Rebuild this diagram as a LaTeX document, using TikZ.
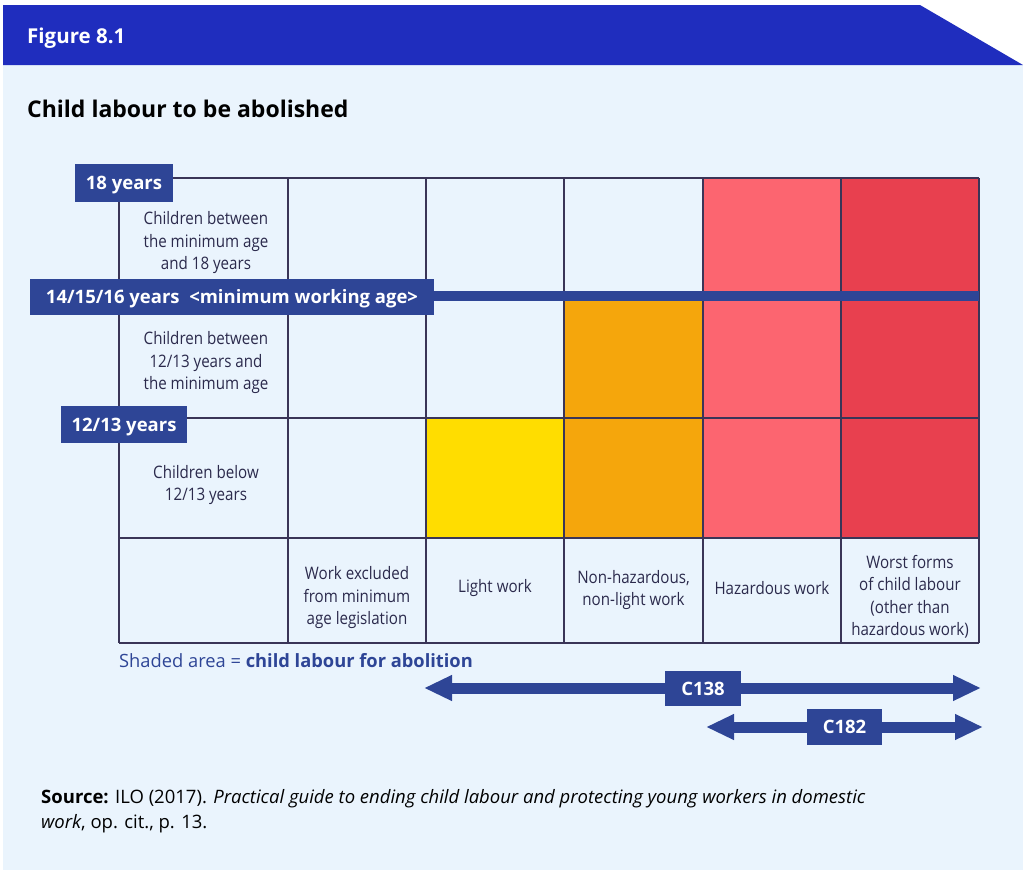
\documentclass[tikz,border=0pt]{standalone}
\usepackage{fontspec}
\setmainfont{Open Sans}
\newfontfamily\cond[FakeStretch=0.88]{Open Sans}
\usetikzlibrary{arrows.meta}
\definecolor{hdrblue}{HTML}{1F2DBE}
\definecolor{panel}{HTML}{EAF4FD}
\definecolor{navy}{HTML}{2E4596}
\definecolor{gridc}{HTML}{3A3557}
\definecolor{txt}{HTML}{2B2A4C}
\definecolor{yel}{HTML}{FFDD00}
\definecolor{org}{HTML}{F5A60C}
\definecolor{pnk}{HTML}{FC6570}
\definecolor{rd}{HTML}{E8404F}
\tikzset{
  cell/.style={text=txt, font=\cond\fontsize{17.2}{22.5}\selectfont, align=center, inner sep=0pt},
  agebox/.style={fill=navy, text=white, font=\bfseries\fontsize{18.5}{20}\selectfont, inner sep=0pt, minimum height=37pt, text height=13.5pt, text depth=0pt},
  gridline/.style={draw=gridc, line width=1.5pt},
  bigarrow/.style={draw=navy, line width=11pt, {Triangle[length=28pt,width=24pt]}-{Triangle[length=28pt,width=24pt]}},
}
\begin{document}
\begin{tikzpicture}[x=1pt,y=-1pt]
\useasboundingbox (0,0) rectangle (1023,870);
% panel and header
\fill[panel] (3,65) rectangle (1023,870);
\fill[hdrblue] (3,5) -- (920,5) -- (1023,65) -- (3,65) -- cycle;
\node[anchor=base west, text=white, inner sep=0pt, font=\bfseries\fontsize{20.5}{22}\selectfont] (fig) at (27,43) {Figure 8.1};
\node[anchor=base west, text=black, inner sep=0pt, font=\bfseries\fontsize{23}{26}\selectfont] (title) at (27,117) {Child labour to be abolished};
% shaded cells
\fill[yel] (426,418) rectangle (564,538);
\fill[org] (564,298) rectangle (703,538);
\fill[pnk] (703,178) rectangle (841,538);
\fill[rd] (841,178) rectangle (979,538);
% grid
\foreach \y in {178,298,418,538,643} \draw[gridline] (119,\y) -- (979,\y);
\foreach \x in {119,288,426,564,703,841,979} \draw[gridline] (\x,178) -- (\x,643);
% minimum age bar
\fill[navy] (30,291) rectangle (979,301);
\node[agebox, minimum width=404pt, minimum height=36pt] (minage) at (232,297) {14/15/16 years\ \ <minimum working age>};
\node[agebox, minimum width=98pt, minimum height=38pt] (y18) at (124,183) {18 years};
\node[agebox, minimum width=126pt] (y12) at (124,424.5) {12/13 years};
% row labels
\node[cell] (r1) at (206,243) {Children between\\the minimum age\\and 18 years};
\node[cell] (r2) at (206,363) {Children between\\12/13 years and\\the minimum age};
\node[cell] (r3) at (206,485) {Children below\\12/13 years};
% column labels
\node[cell] (c1) at (357,598) {Work excluded\\from minimum\\age legislation};
\node[cell] (c2) at (495,588) {Light work};
\node[cell] (c3) at (633.5,590) {Non-hazardous,\\non-light work};
\node[cell] (c4) at (772,588) {Hazardous work};
\node[cell] (c5) at (910,597) {Worst forms\\of child labour\\(other than\\hazardous work)};
% legend
\node[anchor=base west, inner sep=0pt, text=navy, font=\fontsize{18.3}{20}\selectfont] (legend) at (119,667) {Shaded area = \textbf{child labour for abolition}};
% arrows
\coordinate (a1l) at (424,688);
\coordinate (a1r) at (981,688);
\coordinate (a2l) at (706,727);
\coordinate (a2r) at (983,727);
\draw[bigarrow] (a1l) -- (a1r);
\draw[bigarrow] (a2l) -- (a2r);
\node[agebox, minimum width=76pt, minimum height=35pt] (c138) at (703,688.5) {C138};
\node[agebox, minimum width=75pt, minimum height=36pt] (c182) at (844.5,727) {C182};
% source
\node[anchor=base west, inner sep=0pt, text=black, font=\fontsize{18.5}{20}\selectfont] (src1) at (41,803) {\textbf{Source:} ILO (2017). \textit{Practical guide to ending child labour and protecting young workers in domestic}};
\node[anchor=base west, inner sep=0pt, text=black, font=\fontsize{18.5}{20}\selectfont] (src2) at (41,828) {\textit{work}, op. cit., p. 13.};
\end{tikzpicture}
\end{document}
